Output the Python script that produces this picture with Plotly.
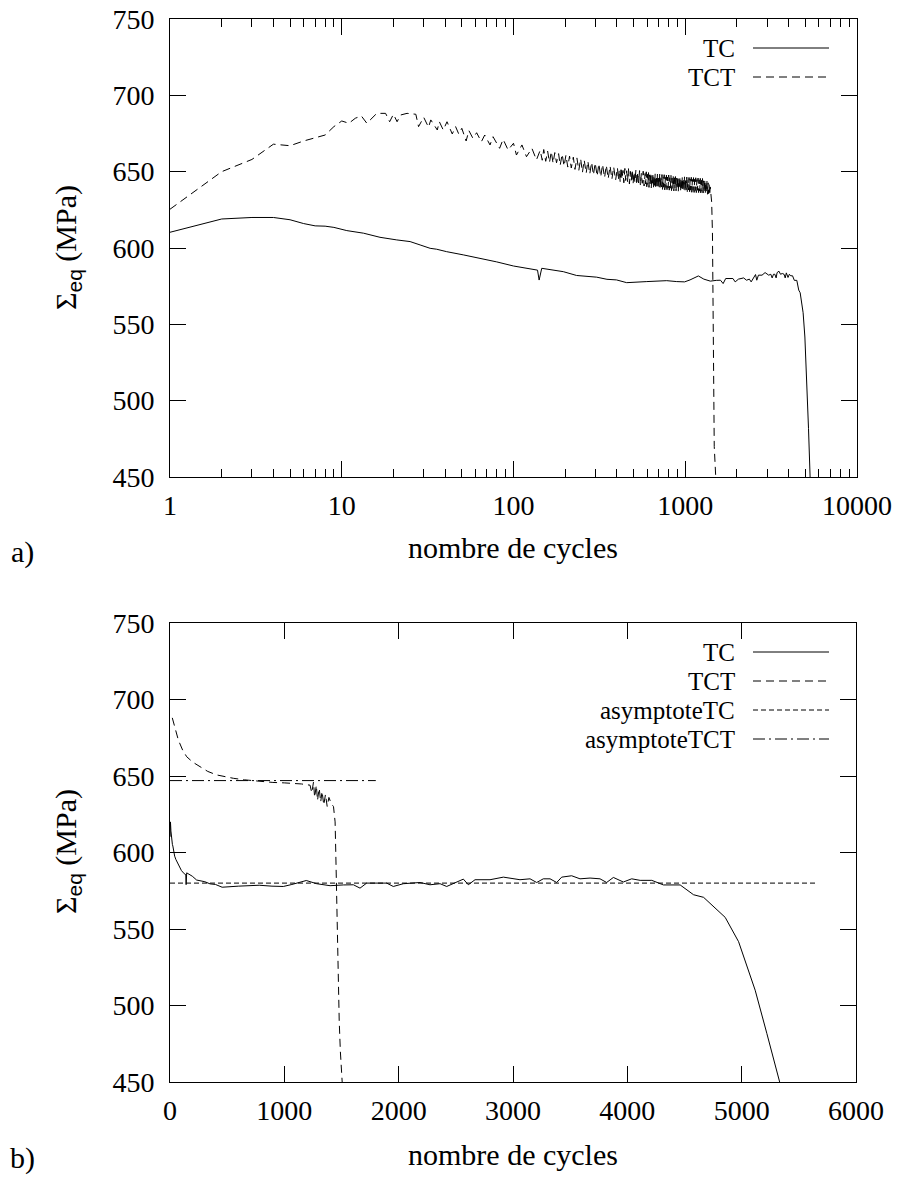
import plotly.graph_objects as go

# ---------------- data ----------------
tc_cycles = [1, 2, 3, 4, 5, 6, 7, 8, 9, 10.7, 13.4, 16.7, 20.9, 25, 28.6, 32.7, 35.7, 40.8, 51, 63.8,
             79.8, 100, 125, 138, 141, 146, 195, 233, 305, 350, 398, 456, 597, 780, 892, 991, 1066,
             1192, 1283, 1333, 1400, 1516, 1604, 1662, 1720, 1895, 1953, 2041, 2187, 2274, 2362,
             2420, 2507, 2566, 2609, 2668, 2799, 2916, 3061, 3149, 3207, 3265, 3324, 3382, 3426,
             3513, 3586, 3674, 3761, 3819, 3878, 3965, 4038, 4112, 4214, 4316, 4462, 4579, 4667,
             4769, 4856, 4973, 5118, 5220, 5328, 5350]
tc_stress = [610.3, 619, 620, 620, 618.5, 616, 614.5, 614.3, 613.5, 611.4, 609.7, 607, 605.3, 604.2,
             602, 599.8, 599.2, 597.6, 595.5, 593.3, 590.9, 588.2, 586.1, 585.5, 579, 586.7, 584.5,
             582, 580.9, 579.5, 579.1, 577.3, 578, 578.6, 578, 577.8, 579.1, 581.7, 579.6, 579.1,
             578.3, 578.8, 578.9, 576.7, 580, 580, 577.8, 579.6, 580.4, 578.9, 579.6, 577.8, 580.4,
             582.6, 578.9, 582.2, 582.2, 583.9, 582.2, 582.8, 580.4, 582.8, 582.8, 580.4, 583.9,
             584.8, 582.8, 583.3, 582.8, 580.4, 583.7, 580.7, 582.8, 581.8, 581.8, 578.8, 578.8,
             572.4, 570.7, 563.3, 557.6, 541.7, 510, 481.8, 451.3, 445]

tct_cycles = [1, 2, 3, 4, 5, 6, 8, 9, 10, 11, 12, 13, 14, 16, 18, 19, 20, 21, 22, 24, 27, 28, 30, 32,
              33, 36, 37, 39, 41, 44, 46, 48, 50, 53, 55, 58, 61, 65, 68, 73, 76, 83, 87, 93, 100,
              104, 112, 119, 128, 136,
              143, 147, 150, 154, 158, 162, 166, 170, 174, 178, 183, 187, 192, 197, 202, 207, 212,
              217, 223, 228, 234, 240, 246, 252, 258, 265, 271, 278, 285, 292, 299, 307, 314, 322,
              330, 339, 347, 356, 365, 374, 383, 393,
              403, 408, 413, 418, 423, 428, 434, 439, 445, 450,
              456, 461, 467, 473, 479, 485, 491, 497, 503, 509,
              516, 522, 529, 535, 542, 548, 555, 562, 569, 576,
              584, 588, 593, 597, 602, 606, 611, 615, 620, 625,
              629, 634, 639, 644, 649, 653, 658, 663, 668, 673,
              679, 684, 689, 694, 699, 705, 710, 715, 721, 726,
              732, 737, 743, 748, 754, 760, 766, 771, 777, 783,
              789, 795, 801, 807, 813, 819, 826, 832, 838, 845,
              851, 858, 864, 871, 877, 884, 891, 898, 904, 911,
              918, 925, 932, 939, 946, 954, 961, 968, 975, 983,
              990, 998, 1005, 1013, 1021, 1028, 1036, 1044, 1052, 1060,
              1068, 1076, 1084, 1092, 1101, 1109, 1117, 1126, 1134, 1143,
              1151, 1160, 1169, 1178, 1187, 1196, 1205, 1214, 1223, 1232,
              1241, 1251, 1260, 1270, 1279, 1289, 1298, 1308, 1318, 1328,
              1338, 1348, 1358, 1368, 1378, 1388, 1398, 1406, 1413, 1419, 1425,
              1440, 1450, 1460, 1475, 1505, 1510]
tct_stress = [625.4, 650, 658, 668, 667, 670.1, 674, 679.5, 683.2, 681.7, 685, 686.5, 681.7, 688.2,
              688.2, 682.7, 687.6, 682.7, 687.1, 688.2, 687.6, 679.5, 685.6, 679.1, 683.9, 677.3,
              682.7, 677.3, 682.7, 674.7, 679.5, 674.7, 678.4, 670.1, 676.9, 671.9, 675.5, 669.6,
              674, 667.5, 672.9, 665.3, 671.2, 664.2, 668.6, 660.9, 667.5, 659.8, 665.3, 657.7,
              664, 657.5, 664.5, 656.8, 663.5, 656, 663.2, 655.5, 662.5, 655.8, 661.8, 654.2, 661.5,
              653.6, 660.8, 653, 660.2, 652.4, 659.5, 651.5, 659, 650.8, 658.5, 649.5, 657.6, 649,
              657, 648.4, 656.2, 647.8, 655.8, 647, 655.3, 646.5, 654.8, 646, 654.2, 645.4, 653.8,
              645, 653.2, 644.4,
              652.6, 644.5, 651.2, 643.1, 652.9, 645.0, 650.8, 642.7, 652.1, 644.2,
              650.6, 643.4, 652.0, 641.9, 650.2, 643.8, 651.4, 642.0, 649.8, 643.0,
              651.1, 641.3, 649.5, 642.6, 650.7, 640.9, 649.0, 642.4, 650.3, 640.6,
              648.8, 641.9, 649.9, 640.1, 648.3, 641.6, 649.5, 639.7, 647.9, 641.2,
              649.2, 639.3, 647.6, 640.8, 648.9, 639.0, 647.2, 640.5, 648.6, 638.7,
              647.4, 640.2, 648.7, 638.9, 647.0, 639.9, 648.4, 638.6, 646.8, 640.0,
              648.1, 638.4, 646.6, 639.8, 648.0, 638.1, 646.3, 639.5, 647.7, 638.2,
              646.5, 639.3, 647.8, 637.9, 646.1, 639.2, 647.5, 637.6, 645.9, 639.0,
              647.2, 637.4, 646.0, 638.9, 647.3, 637.5, 645.7, 638.8, 647.0, 637.2,
              645.5, 638.6, 646.8, 637.0, 645.3, 638.4, 646.7, 637.3, 645.6, 638.3,
              646.6, 636.8, 645.1, 638.2, 646.4, 636.6, 645.0, 638.0, 646.2, 636.9,
              645.2, 637.9, 646.3, 636.5, 644.9, 637.7, 646.1, 636.4, 645.0, 637.6,
              646.0, 636.3, 644.8, 637.8, 645.8, 636.3, 644.6, 637.3, 645.6, 636.1,
              644.4, 637.2, 645.5, 636.0, 644.0, 636.9, 644.9, 635.8, 643.6, 636.4,
              643.8, 635.2, 642.7, 635.6, 641.5, 634.6, 640.0, 634.5, 636.0, 632.0, 630.0,
              610, 560, 510, 470, 450, 440]

tct_lin_cycles = [20, 40, 73, 110, 146, 200, 262, 330, 408, 480, 554, 650, 787, 900, 1000, 1079,
                  1150, 1225, 1240, 1255, 1265, 1280, 1290, 1305, 1318, 1330, 1345, 1360, 1375,
                  1390, 1410, 1430, 1444, 1450, 1460, 1470, 1480, 1490, 1505, 1510]
tct_lin_stress = [688, 682, 673.5, 667, 662.6, 659, 656, 653, 650.7, 649.5, 648.5, 647.5, 646.3,
                  645.8, 645.5, 645.2, 644.8, 644, 639, 646, 636, 644, 634, 642, 633, 640, 631, 638,
                  630, 636, 632, 630, 620, 600, 560, 520, 490, 470, 450, 445]

asym_tc_cycles = [0, 5650]
asym_tc_stress = [580, 580]
asym_tct_cycles = [0, 1800]
asym_tct_stress = [647, 647]

log_tick_vals = [1, 10, 100, 1000, 10000]
log_tick_text = ["1", "10", "100", "1000", "10000"]
lin_tick_vals = [0, 1000, 2000, 3000, 4000, 5000, 6000]
y_tick_vals = [450, 500, 550, 600, 650, 700, 750]

# ---------------- style ----------------
FONT = "Liberation Serif, Times New Roman, Times, serif"
FS_TICK = 28
FS_TEXT = 30
FS_LEG = 25
W, H = 901, 1178
DASH_TCT = "8px,5px"
DASH_ATC = "5px,3px"
DASH_ATCT = "12px,4px,2px,4px"


def px_x(p):
    return p / W


def px_y(p):
    return 1 - p / H


fig = go.Figure()
ln = dict(color="black", width=1)
fig.add_trace(go.Scatter(x=tc_cycles, y=tc_stress, mode="lines", line=ln, xaxis="x", yaxis="y"))
fig.add_trace(go.Scatter(x=tct_cycles, y=tct_stress, mode="lines", line=dict(ln, dash=DASH_TCT),
                         xaxis="x", yaxis="y"))
fig.add_trace(go.Scatter(x=tc_cycles, y=tc_stress, mode="lines", line=ln, xaxis="x2", yaxis="y2"))
fig.add_trace(go.Scatter(x=tct_lin_cycles, y=tct_lin_stress, mode="lines",
                         line=dict(ln, dash=DASH_TCT), xaxis="x2", yaxis="y2"))
fig.add_trace(go.Scatter(x=asym_tc_cycles, y=asym_tc_stress, mode="lines",
                         line=dict(ln, dash=DASH_ATC), xaxis="x2", yaxis="y2"))
fig.add_trace(go.Scatter(x=asym_tct_cycles, y=asym_tct_stress, mode="lines",
                         line=dict(ln, dash=DASH_ATCT), xaxis="x2", yaxis="y2"))

axis_common = dict(showline=True, linecolor="black", linewidth=1, mirror="ticks", ticks="inside",
                   ticklen=16, tickwidth=1, tickcolor="black", showgrid=False, zeroline=False,
                   automargin=False,
                   tickfont=dict(family=FONT, size=FS_TICK, color="black"))

minor_vals = [m * d for d in (1, 10, 100, 1000) for m in range(2, 10)]

fig.update_layout(
    width=W, height=H, margin=dict(l=0, r=0, t=0, b=0, autoexpand=False),
    paper_bgcolor="white", plot_bgcolor="white", showlegend=False,
    font=dict(family=FONT, size=FS_TEXT, color="black"),
    xaxis=dict(axis_common, type="log", range=[0, 4], domain=[px_x(170), px_x(857)], anchor="y",
               tickmode="array", tickvals=log_tick_vals, ticktext=log_tick_text,
               ticklabelstandoff=3,
               minor=dict(ticks="inside", ticklen=8, tickwidth=1, tickcolor="black",
                          tickmode="array", tickvals=minor_vals, showgrid=False)),
    yaxis=dict(axis_common, range=[450, 750], domain=[px_y(477), px_y(19)], anchor="x",
               tickmode="array", tickvals=y_tick_vals, ticklabelstandoff=9),
    xaxis2=dict(axis_common, range=[0, 6000], domain=[px_x(170), px_x(856)], anchor="y2",
                tickmode="array", tickvals=lin_tick_vals, ticklabelstandoff=3),
    yaxis2=dict(axis_common, range=[450, 750], domain=[px_y(1082), px_y(623)], anchor="x2",
                tickmode="array", tickvals=y_tick_vals, ticklabelstandoff=9),
)

tfont = dict(family=FONT, size=FS_TEXT, color="black")
lfont = dict(family=FONT, size=FS_LEG, color="black")
ylab = "Σ<sub><span style='font-family:Liberation Sans'>eq</span></sub> (MPa)"
annots = [
    dict(text=ylab, x=px_x(67), y=px_y(248), textangle=-90),
    dict(text=ylab, x=px_x(67), y=px_y(852), textangle=-90),
    dict(text="nombre de cycles", x=px_x(513), y=px_y(548)),
    dict(text="nombre de cycles", x=px_x(513), y=px_y(1154)),
    dict(text="a)", x=px_x(22), y=px_y(552)),
    dict(text="b)", x=px_x(22), y=px_y(1158)),
]
for a in annots:
    fig.add_annotation(xref="paper", yref="paper", showarrow=False, font=tfont,
                       xanchor="center", yanchor="middle", **a)

legend_top = [("TC", None, 48), ("TCT", DASH_TCT, 77)]
legend_bot = [("TC", None, 652), ("TCT", DASH_TCT, 681),
              ("asymptoteTC", DASH_ATC, 710), ("asymptoteTCT", DASH_ATCT, 739)]
for name, dash, yy in legend_top + legend_bot:
    fig.add_annotation(xref="paper", yref="paper", showarrow=False, font=lfont, text=name,
                       x=px_x(737), y=px_y(yy), xanchor="right", yanchor="middle")
    fig.add_shape(type="line", xref="paper", yref="paper", x0=px_x(753), x1=px_x(829),
                  y0=px_y(yy), y1=px_y(yy),
                  line=dict(color="black", width=1, dash=dash if dash else "solid"))

fig.write_html("out.html", config={"displayModeBar": False},
               post_script="document.body.style.margin='0px';")
